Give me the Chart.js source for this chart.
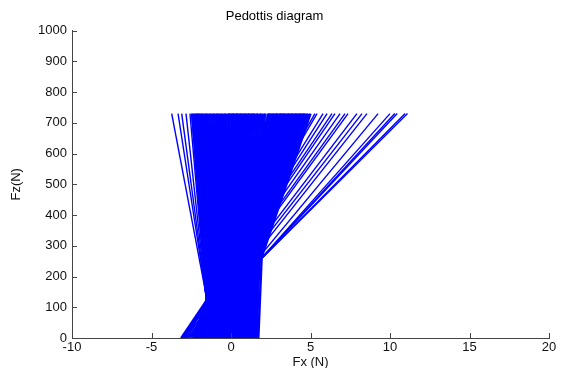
<!DOCTYPE html>
<html>
<head>
<meta charset="utf-8">
<title>Pedottis diagram</title>
<script src="https://cdn.jsdelivr.net/npm/chart.js@4.4.1/dist/chart.umd.min.js"></script>
<style>
  html, body { margin: 0; padding: 0; background: #fff; }
  #wrap { width: 562px; height: 368px; }
</style>
</head>
<body>
<div id="wrap"><canvas id="chart"></canvas></div>
<script>
// every force line runs from Fz = 0 up to the same Fz
const FZ_FOOT = 0;
const FZ_HEAD = 730;

// right-hand fan (Fx at foot / Fx at head)
const fanFoot = [-3.10, -3.02, -2.78, -2.70, -2.55, -2.45, -2.60, -2.75, -2.85,
                 -2.95, -3.00, -3.08, -3.12, -3.16, -3.05, -2.98, -2.90, -2.88];
const fanHead = [11.10, 10.95, 10.45, 10.30, 10.00, 9.25, 8.55, 8.24, 7.92,
                 7.36, 7.17, 6.86, 6.54, 6.35, 6.04, 5.79, 5.41, 5.28];

// steep lines leaning left
const leftFoot = [-1.05, -1.15, -1.21, -1.28, -1.35, -1.38];
const leftHead = [-3.73, -3.33, -3.10, -2.83, -2.58, -2.47];

// main bundle
const coreFoot = [-1.30, -1.24, -1.19, -1.12, -1.06, -1.01, -0.93, -0.88, -0.82, -0.77,
                  -0.70, -0.63, -0.58, -0.52, -0.47, -0.40, -0.35, -0.27, -0.22, -0.16,
                  -0.11, -0.04, 0.02, 0.07, 0.14, 0.19, 0.25, 0.31, 0.36, 0.43,
                  0.48, 0.55, 0.60, 0.66, 0.71, 0.78, 0.84, 0.89, 0.95, 1.02,
                  1.07, 1.13, 1.19, 1.26, 1.31, 1.38, 1.44, 1.52, 1.61, 1.72];
const coreHead = [-2.45, -2.36, -2.28, -2.17, -2.09, -1.98, -1.90, -1.79, -1.71, -1.60,
                  -1.52, -1.43, -1.31, -1.24, -1.13, -1.05, -0.94, -0.86, -0.75, -0.67,
                  -0.56, -0.47, -0.38, -0.29, -0.18, -0.10, 0.01, 0.09, 0.20, 0.28,
                  0.39, 0.47, 0.58, 0.66, 0.77, 0.85, 0.96, 1.05, 1.14, 1.25,
                  1.33, 1.44, 1.52, 1.63, 1.71, 1.82, 1.91, 2.02, 2.13, 2.30];

// bundle leaning right
const rightFoot = [-2.35, -2.28, -2.20, -2.14, -2.05, -1.99, -1.91, -1.84, -1.77, -1.69,
                   -1.62, -1.55, -1.47, -1.41, -1.32, -1.26, -1.18, -1.10, -1.04, -0.96,
                   -0.89, -0.81, -0.75, -0.66, -0.60, -0.52, -0.45, -0.37, -0.30, -0.23,
                   -0.15, -0.08, 0.00, 0.09, 0.20];
const rightHead = [2.40, 2.47, 2.55, 2.61, 2.70, 2.76, 2.85, 2.92, 2.99, 3.08,
                   3.14, 3.22, 3.29, 3.37, 3.44, 3.52, 3.59, 3.66, 3.74, 3.81,
                   3.89, 3.95, 4.04, 4.10, 4.18, 4.26, 4.33, 4.40, 4.48, 4.55,
                   4.63, 4.70, 4.78, 4.87, 5.00];

// crossing lines through the waist
const crossFoot = [-2.20, -2.07, -1.95, -1.80, -1.68, -1.55, -1.41, -1.30, -1.16, -1.03,
                   -0.90, -0.78, -0.63, -0.51, -0.38, -0.25, -0.12, 0.00, 0.14, 0.26,
                   0.39, 0.51, 0.65, 0.77, 0.90, 1.03, 1.15, 1.29, 1.42, 1.58];
const crossHead = [4.60, 4.35, 4.12, 3.86, 3.63, 3.37, 3.12, 2.88, 2.62, 2.39,
                   2.13, 1.87, 1.64, 1.38, 1.13, 0.89, 0.62, 0.38, 0.12, -0.12,
                   -0.37, -0.62, -0.86, -1.11, -1.36, -1.60, -1.84, -1.99, -2.10, -2.20];

const xTicks = [-10, -5, 0, 5, 10, 15, 20];
const yTicks = [0, 100, 200, 300, 400, 500, 600, 700, 800, 900, 1000];

const FONT = 'Liberation Sans, Arial, Helvetica, sans-serif';
const BLUE = '#0000ff';
const AXIS = '#444';

function lineSets(foot, head, width) {
  return foot.map((b, i) => ({
    data: [{ x: b, y: FZ_FOOT }, { x: head[i], y: FZ_HEAD }],
    showLine: true,
    borderColor: BLUE,
    borderWidth: width,
    pointRadius: 0,
    fill: false
  }));
}

// bundles are drawn a bit heavier so they close up like the original
const datasets = [].concat(
  lineSets(coreFoot, coreHead, 2.4),
  lineSets(rightFoot, rightHead, 2.4),
  lineSets(crossFoot, crossHead, 1.6),
  lineSets(fanFoot, fanHead, 1.4),
  lineSets(leftFoot, leftHead, 1.4)
);

// matlab style tick marks pointing into the plot
const inwardTicks = {
  id: 'inwardTicks',
  afterDraw(chart) {
    const { ctx, chartArea, scales } = chart;
    ctx.save();
    ctx.strokeStyle = AXIS;
    ctx.lineWidth = 1;
    ctx.beginPath();
    scales.x.ticks.forEach(t => {
      const px = Math.round(scales.x.getPixelForValue(t.value)) + 0.5;
      ctx.moveTo(px, chartArea.bottom);
      ctx.lineTo(px, chartArea.bottom - 5);
    });
    scales.y.ticks.forEach(t => {
      const py = Math.round(scales.y.getPixelForValue(t.value)) + 0.5;
      ctx.moveTo(chartArea.left, py);
      ctx.lineTo(chartArea.left + 5, py);
    });
    ctx.stroke();
    ctx.restore();
  }
};

new Chart(document.getElementById('chart'), {
  type: 'scatter',
  data: { datasets },
  plugins: [inwardTicks],
  options: {
    responsive: true,
    maintainAspectRatio: false,
    animation: false,
    events: [],
    layout: { padding: { left: 0, right: 13, top: 0, bottom: 0 } },
    plugins: {
      legend: { display: false },
      tooltip: { enabled: false },
      title: {
        display: true,
        text: 'Pedottis diagram',
        color: '#000',
        font: { family: FONT, size: 13, weight: 'normal' },
        padding: { top: 9, bottom: 6 }
      }
    },
    scales: {
      x: {
        type: 'linear',
        min: -10,
        max: 20,
        afterBuildTicks: s => { s.ticks = xTicks.map(v => ({ value: v })); },
        afterFit: s => { s.height = 30; },
        grid: { display: false, drawTicks: false },
        border: { display: true, color: AXIS, width: 1 },
        ticks: { color: '#111', padding: 2, maxRotation: 0, font: { family: FONT, size: 13 },
                 callback: v => String(v) },
        title: {
          display: true,
          text: 'Fx (N)',
          color: '#111',
          font: { family: FONT, size: 13 },
          padding: { top: 0, bottom: -2 }
        }
      },
      y: {
        type: 'linear',
        min: 0,
        max: 1000,
        afterBuildTicks: s => { s.ticks = yTicks.map(v => ({ value: v })); },
        afterFit: s => { s.width = 72; },
        grid: { display: false, drawTicks: false },
        border: { display: true, color: AXIS, width: 1 },
        ticks: { color: '#111', padding: 5, font: { family: FONT, size: 13 },
                 callback: v => String(v) },
        title: {
          display: true,
          text: 'Fz(N)',
          color: '#111',
          font: { family: FONT, size: 13 },
          padding: { top: 9, bottom: 0 }
        }
      }
    }
  }
});
</script>
</body>
</html>
